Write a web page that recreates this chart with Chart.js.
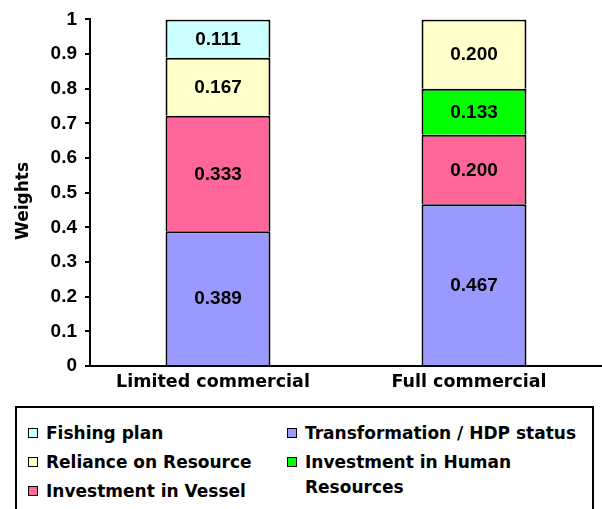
<!DOCTYPE html>
<html>
<head>
<meta charset="utf-8">
<script src="https://cdn.jsdelivr.net/npm/chart.js@4.4.1/dist/chart.umd.min.js"></script>
<style>
  body { margin: 0; background: #fff; font-family: "DejaVu Sans", Arial, sans-serif; }
  #wrap { position: relative; width: 602px; height: 509px; overflow: hidden; }
  #chart-legend {
    position: absolute; left: 15px; top: 406px; width: 579px; height: 110px;
    border: 2px solid #000; box-sizing: border-box;
  }
  .legend-item { position: absolute; font-weight: bold; font-size: 17px; line-height: 25px; color: #000; white-space: nowrap; }
  .legend-color { position: absolute; left: 0; top: 7px; width: 8px; height: 8px; border: 1px solid #000; }
  .legend-label { display: block; padding-left: 18px; }
</style>
</head>
<body>
<div id="wrap">
  <canvas id="myChart" width="602" height="400"></canvas>
  <div id="chart-legend"></div>
</div>
<script>
// Sample data
const categories = ['Limited commercial', 'Full commercial'];
const transformation = [0.389, 0.467];
const vessel = [0.333, 0.200];
const humanResources = [0, 0.133];
const reliance = [0.167, 0.200];
const fishingPlan = [0.111, 0];
const yTicks = [0, 0.1, 0.2, 0.3, 0.4, 0.5, 0.6, 0.7, 0.8, 0.9, 1];

// value labels in the middle of each segment + rotated axis title
const valueLabels = {
  id: 'valueLabels',
  afterDatasetsDraw(chart) {
    const ctx = chart.ctx;
    ctx.save();
    ctx.font = 'bold 19px "Liberation Sans", Arial';
    ctx.fillStyle = '#000';
    ctx.textAlign = 'center';
    ctx.textBaseline = 'middle';
    chart.data.datasets.forEach((ds, i) => {
      chart.getDatasetMeta(i).data.forEach((bar, j) => {
        const v = ds.data[j];
        if (!v) return;
        ctx.fillText(v.toFixed(3), bar.x, (bar.y + bar.base) / 2 + 1);
      });
    });
    // y title
    ctx.translate(24, 201);
    ctx.rotate(-Math.PI / 2);
    ctx.font = 'bold 17px "DejaVu Sans"';
    ctx.fillText('Weights', 0, 0);
    ctx.restore();
  }
};

const barStyle = {
  borderColor: '#000',
  borderWidth: (c) => c.raw ? { top: 2, left: 2, right: 2, bottom: 0 } : 0,
  borderSkipped: false,
  barPercentage: 0.41,
  categoryPercentage: 1,
};

const ctx = document.getElementById('myChart').getContext('2d');
const myChart = new Chart(ctx, {
  type: 'bar',
  data: {
    labels: categories,
    datasets: [
      { label: 'Transformation / HDP status', data: transformation, backgroundColor: '#9999FF', ...barStyle },
      { label: 'Investment in Vessel', data: vessel, backgroundColor: '#FF6699', ...barStyle },
      { label: 'Investment in Human Resources', data: humanResources, backgroundColor: '#00FF00', ...barStyle },
      { label: 'Reliance on Resource', data: reliance, backgroundColor: '#FFFFCC', ...barStyle },
      { label: 'Fishing plan', data: fishingPlan, backgroundColor: '#CCFFFF', ...barStyle },
    ],
  },
  options: {
    responsive: false,
    animation: false,
    layout: { padding: { left: 12, top: 19, right: 0, bottom: 0 } },
    scales: {
      x: {
        stacked: true,
        grid: { display: false, drawTicks: false },
        border: { display: true, color: '#000', width: 2 },
        ticks: { color: '#000', padding: 6, labelOffset: -5, font: { family: '"DejaVu Sans"', size: 17.5, weight: 'bold' } },
        afterFit: (s) => { s.height = 34; },
      },
      y: {
        stacked: true,
        min: 0,
        max: 1,
        afterBuildTicks: (s) => { s.ticks = yTicks.map(v => ({ value: v })); },
        grid: { drawOnChartArea: false, drawTicks: true, tickLength: 5, color: '#000', lineWidth: 2 },
        border: { display: true, color: '#000', width: 2 },
        ticks: {
          color: '#000', padding: 8,
          font: { family: '"Liberation Sans", Arial', size: 19, weight: 'bold' },
          callback: (v) => String(v),
        },
        afterFit: (s) => { s.width = 78; },
      },
    },
    plugins: {
      legend: { display: false },
      tooltip: { enabled: false },
    },
  },
  plugins: [valueLabels],
});

// Custom legend
const legendOrder = [
  ['Fishing plan', 11, 13],
  ['Reliance on Resource', 11, 42],
  ['Investment in Vessel', 11, 71],
  ['Transformation / HDP status', 270, 13],
  ['Investment in Human Resources', 270, 42],
];
const chartLegend = document.getElementById('chart-legend');
legendOrder.forEach(([label, left, top]) => {
  const ds = myChart.data.datasets.find(d => d.label === label);
  const legendItem = document.createElement('div');
  legendItem.classList.add('legend-item');
  legendItem.style.left = left + 'px';
  legendItem.style.top = top + 'px';

  const legendColor = document.createElement('span');
  legendColor.classList.add('legend-color');
  legendColor.style.backgroundColor = ds.backgroundColor;
  legendItem.appendChild(legendColor);

  // the long label wraps onto a second line in the reference
  const lines = label === 'Investment in Human Resources' ? ['Investment in Human', 'Resources'] : [label];
  lines.forEach(t => {
    const legendLabel = document.createElement('span');
    legendLabel.classList.add('legend-label');
    legendLabel.textContent = t;
    legendItem.appendChild(legendLabel);
  });
  chartLegend.appendChild(legendItem);
});
</script>
</body>
</html>
